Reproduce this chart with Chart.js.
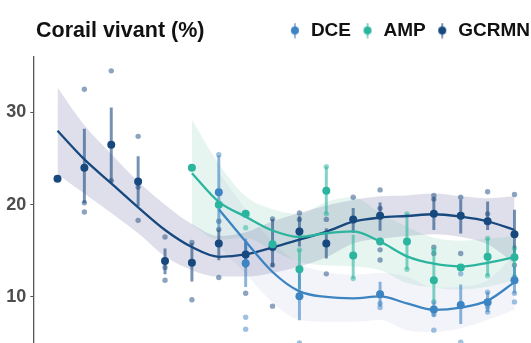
<!DOCTYPE html>
<html>
<head>
<meta charset="utf-8">
<script src="https://cdn.jsdelivr.net/npm/chart.js@4.4.1/dist/chart.umd.min.js"></script>
<style>
html, body { margin:0; padding:0; background:#fff; overflow:hidden; width:531px; height:343px; }
canvas { display:block; }
</style>
</head>
<body>
<canvas id="chart" width="540" height="404"></canvas>
<script>

// DATA (one column per survey, x axis is outside the frame)

const titleText = "Corail vivant (%)";
const seriesNames = ["DCE", "AMP", "GCRMN"];
const columns = [0,1,2,3,4,5,6,7,8,9,10,11,12,13,14,15,16,17];
const yTicks = [10, 20, 30];

// GCRMN
const gcrmnMean = [22.8, 24.0, 26.5, 22.5, 13.9, 13.7, 15.8, 14.6, 15.4, 17.1, 15.8, 18.4, 18.8, null, 19.0, 18.8, 18.2, 16.8];
const gcrmnLow  = [null, 20.2, 22.5, 19.9, 12.5, 11.7, 14.0, 13.2, 13.3, 15.5, 14.2, 17.0, 17.2, null, 17.3, 16.9, 17.3, 14.7];
const gcrmnHigh = [null, 28.2, 30.5, 25.2, 15.2, 15.8, 17.3, 16.0, 18.4, 18.7, 17.4, 19.6, 20.2, null, 20.7, 20.5, 20.3, 19.4];
const gcrmnSites = [[], [32.5, 20.2, 19.2], [34.5, 22.6], [27.4, 21.9, 18.3], [16.5, 13.2, 11.8], [15.9, 9.7],
  [18.2, 17.3, 12.1], [10.4], [18.45, 13.45, 9.0], [19.1, 18.4], [18.4, 12.5], [20.8], [21.6, 19.6, 15.1, 14.0],
  [], [21.0, 20.6, 15.4, 14.7], [20.8, 14.7], [21.4, 19.0], [21.1, 13.45]];
const gcrmnFit   = [28.0, 24.9, 22.3, 19.7, 17.25, 15.4, 14.35, 14.6, 15.35, 16.2, 17.07, 18.15, 18.6, 18.77, 18.96, 18.7, 18.2, 17.25];
const gcrmnUpper = [32.7, 28.6, 25.5, 22.5, 20.0, 17.9, 16.6, 17.0, 18.2, 19.1, 19.9, 20.5, 20.9, 21.0, 21.2, 20.9, 20.7, 20.9];
const gcrmnLower = [23.3, 21.2, 19.1, 16.9, 14.4, 12.9, 12.2, 12.2, 12.6, 13.3, 14.3, 15.8, 16.3, 16.6, 16.8, 16.5, 15.7, 13.6];

// AMP
const ampMean = [null, null, null, null, null, 24.0, 20.0, 19.0, 15.7, 13.0, 21.5, 14.5, 16.0, 16.0, 11.8, 13.2, 14.35, 14.3];
const ampLow  = [null, null, null, null, null, null, null, null, null, 10.9, 19.0, 12.0, null, 13.0, 9.4, null, 12.3, 12.2];
const ampHigh = [null, null, null, null, null, null, null, null, null, 15.1, 24.1, 16.7, null, 19.0, 15.1, null, 16.35, 15.3];
const ampSites = [[], [], [], [], [], [], [], [17.5], [], [15.1], [24.1, 19.0], [12.0], [], [19.0, 13.0], [15.1], [], [16.35, 12.3], [15.3, 12.2]];
const ampFit   = [null, null, null, null, null, 23.4, 20.3, 18.7, 17.2, 16.5, 16.9, 17.1, 16.0, 14.4, 13.6, 13.3, 13.7, 14.3];
const ampUpper = [null, null, null, null, null, 29.2, 24.4, 20.9, 19.5, 19.0, 20.3, 20.8, 19.1, 17.6, 16.4, 16.1, 16.3, 16.6];
const ampLower = [null, null, null, null, null, 17.8, 16.2, 16.4, 15.0, 13.8, 13.4, 13.3, 12.9, 11.5, 11.0, 10.8, 11.1, 11.8];

// DCE
const dceMean = [null, null, null, null, null, null, 21.35, 13.66, null, 10.08, null, null, 10.3, null, 8.63, 9.13, 9.42, 11.8];
const dceLow  = [null, null, null, null, null, null, 17.4, 11.1, null, 7.5, null, null, 9.0, null, 7.9, 7.1, 8.4, 10.4];
const dceHigh = [null, null, null, null, null, null, 25.3, 16.3, null, 12.6, null, null, 11.6, null, 9.4, 11.3, 10.5, 13.2];
const dceSites = [[], [], [], [], [], [], [25.4], [7.8, 6.5], [], [5.0], [], [], [9.3, 8.85], [], [9.46, 8.1, 6.4], [12.5, 5.1], [10.5, 8.9, 8.37], [10.4, 9.46]];
const dceFit   = [null, null, null, null, null, null, 19.5, 16.0, 12.7, 10.6, 10.0, 9.85, 10.05, 9.3, 8.6, 8.85, 9.6, 11.6];
const dceUpper = [null, null, null, null, null, null, 23.5, 19.5, 16.0, 13.6, 12.7, 12.4, 12.6, 12.2, 11.0, 11.1, 11.8, 14.6];
const dceLower = [null, null, null, null, null, null, 15.5, 12.5, 9.4, 7.5, 7.3, 7.3, 7.5, 6.4, 6.2, 6.6, 7.5, 8.6];

// STYLES

const series = [
    {name: seriesNames[0], mean: dceMean, low: dceLow, high: dceHigh, sites: dceSites, fit: dceFit, upper: dceUpper, lower: dceLower,
     color: "#3d84c3", soft: "rgba(61,132,195,0.5)", bar: "rgba(61,132,195,0.6)", band: "rgba(80,100,180,0.07)"},
    {name: seriesNames[1], mean: ampMean, low: ampLow, high: ampHigh, sites: ampSites, fit: ampFit, upper: ampUpper, lower: ampLower,
     color: "#2bb59f", soft: "rgba(43,181,159,0.5)", bar: "rgba(43,181,159,0.6)", band: "rgba(60,170,140,0.12)"},
    {name: seriesNames[2], mean: gcrmnMean, low: gcrmnLow, high: gcrmnHigh, sites: gcrmnSites, fit: gcrmnFit, upper: gcrmnUpper, lower: gcrmnLower,
     color: "#17497f", soft: "rgba(27,74,127,0.5)", bar: "rgba(27,74,127,0.6)", band: "rgba(70,80,140,0.18)"}
];

// HELPERS

function points(values){
    return columns
    .filter(i => values[i] !== null)
    .map(i => ({x: i, y: values[i]}));
}

function ranges(low, high){
    return columns
    .filter(i => low[i] !== null && high[i] !== null)
    .map(i => ({x: i, y: [low[i], high[i]]}));
}

function sitePoints(sites){
    let out = [];
    sites.forEach((list, i) => list.forEach(v => out.push({x: i, y: v})));
    return out;
}

function legendMarker(s){
    let c = document.createElement("canvas");
    c.width = 10;
    c.height = 16;
    let g = c.getContext("2d");
    g.fillStyle = s.bar;
    g.fillRect(4, 0.5, 2, 15);
    g.beginPath();
    g.arc(5, 8, 4, 0, Math.PI * 2);
    g.fillStyle = s.color;
    g.fill();
    return c;
}

// DATASETS

let datasets = [];

series.forEach(s => {

    datasets.push({
        type: "line", data: points(s.upper), order: 6,
        borderWidth: 0, pointRadius: 0, fill: "+1",
        backgroundColor: s.band, cubicInterpolationMode: "monotone"
    });

    datasets.push({
        type: "line", data: points(s.lower), order: 6,
        borderWidth: 0, pointRadius: 0, fill: false,
        cubicInterpolationMode: "monotone"
    });
});

series.forEach(s => {

    datasets.push({
        type: "scatter", data: sitePoints(s.sites), order: 5,
        pointRadius: 2.7, backgroundColor: s.soft, borderWidth: 0
    });

    datasets.push({
        type: "bar", data: ranges(s.low, s.high), order: 4,
        grouped: false, barThickness: 2.3,
        backgroundColor: s.bar, borderWidth: 0
    });

    datasets.push({
        type: "line", data: points(s.fit), order: 3,
        borderColor: s.color, borderWidth: 2.3, pointRadius: 0,
        fill: false, cubicInterpolationMode: "monotone"
    });

    datasets.push({
        type: "scatter", data: points(s.mean), order: 2,
        pointRadius: 4, backgroundColor: s.color, borderWidth: 0
    });
});

// PLUGINS

const legendGap = {
    id: "legendGap",
    beforeInit(chart){
        const fit = chart.legend.fit;
        chart.legend.fit = function(){
            fit.call(this);
            this.height += 7;
        };
    }
};

const leftTitle = {
    id: "leftTitle",
    afterDraw(chart){
        const ctx = chart.ctx;
        ctx.save();
        ctx.font = "bold 21.5px 'Liberation Sans', Arial, sans-serif";
        ctx.fillStyle = "#111";
        ctx.textBaseline = "alphabetic";
        ctx.textAlign = "left";
        ctx.fillText(titleText, 36, 37);
        ctx.restore();
    }
};

// CHART

new Chart(document.getElementById("chart"), {

    type: "line",

    data: { datasets: datasets },

    options: {
        responsive: false,
        animation: false,
        devicePixelRatio: 1,

        layout: { padding: {top: 11, left: 0, right: 0, bottom: 0} },

        scales: {
            x: {
                type: "linear",
                display: false,
                offset: false,
                min: -0.9,
                max: 17.8
            },
            y: {
                type: "linear",
                min: 0,
                max: 36,
                afterFit: scale => { scale.width = 33.3; },
                afterBuildTicks: scale => { scale.ticks = yTicks.map(v => ({value: v})); },
                grid: {
                    drawOnChartArea: false,
                    drawTicks: true,
                    tickLength: 3,
                    color: "#555"
                },
                border: { display: true, color: "#555", width: 1.3 },
                ticks: {
                    padding: 4,
                    color: "#4d4d4d",
                    font: { family: "'Liberation Sans', Arial, sans-serif", size: 18, weight: "bold" }
                }
            }
        },

        plugins: {
            tooltip: { enabled: false },
            title: { display: false },
            legend: {
                display: true,
                position: "top",
                align: "end",
                onClick: null,
                labels: {
                    usePointStyle: true,
                    pointStyleWidth: 13,
                    padding: 10,
                    color: "#111",
                    font: { family: "'Liberation Sans', Arial, sans-serif", size: 19, weight: "bold" },
                    generateLabels: () => series.map(s => ({
                        text: s.name,
                        pointStyle: legendMarker(s),
                        fillStyle: s.color,
                        strokeStyle: s.color,
                        lineWidth: 0,
                        hidden: false,
                        fontColor: "#111"
                    }))
                }
            }
        }
    },

    plugins: [legendGap, leftTitle]
});

</script>
</body>
</html>
